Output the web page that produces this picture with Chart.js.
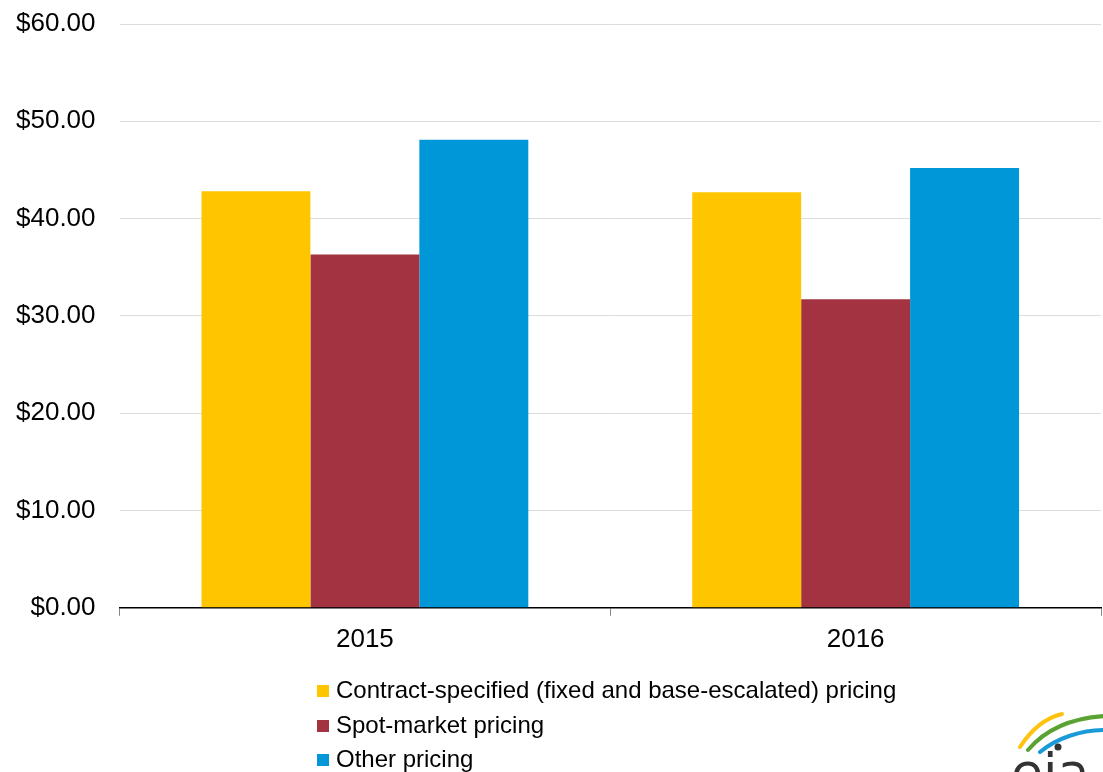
<!DOCTYPE html>
<html>
<head>
<meta charset="utf-8">
<script src="https://cdn.jsdelivr.net/npm/chart.js@4"></script>
<style>
  html, body { margin: 0; padding: 0; background: #fff; }
  #wrap { position: relative; width: 1103px; height: 772px; overflow: hidden; }
  #legend { position: absolute; left: 317px; top: 673px; font: 24px "Liberation Sans", Arial, sans-serif; color: #000; }
  #legend div { height: 34.5px; line-height: 34px; white-space: nowrap; }
  #legend span { display: inline-block; width: 12px; height: 12px; margin-right: 7px; vertical-align: 1px; }
  #logo { position: absolute; left: 1005px; top: 700px; }
</style>
</head>
<body>
<div id="wrap">
  <canvas id="chart1" width="1103" height="772"></canvas>
  <div id="legend"></div>
  <svg id="logo" width="98" height="72" viewBox="0 0 98 72">
    <path d="M15 47 C 26 30, 40 18, 57 14" stroke="#FFC20E" stroke-width="4" fill="none" stroke-linecap="round"/>
    <path d="M23 50 C 40 30, 66 18, 100 16" stroke="#5AA332" stroke-width="4" fill="none" stroke-linecap="round"/>
    <path d="M35 52 C 52 38, 76 30, 100 30" stroke="#1A9AD6" stroke-width="4" fill="none" stroke-linecap="round"/>
    <circle cx="53" cy="47" r="3.5" fill="#333"/>
    <text x="6" y="90" font-family="DejaVu Sans, sans-serif" font-size="52" fill="#333">eia</text>
  </svg>
</div>
<script>
const years = ["2015", "2016"];
const seriesNames = [
  "Contract-specified (fixed and base-escalated) pricing",
  "Spot-market pricing",
  "Other pricing",
];
const contractPrice = [42.8, 42.7];
const spotPrice = [36.3, 31.7];
const otherPrice = [48.1, 45.2];
const colors = ["#FFC600", "#A33340", "#0097D9"];

const ctx1 = document.getElementById("chart1").getContext("2d");

new Chart(ctx1, {
  type: "bar",
  data: {
    labels: years,
    datasets: [contractPrice, spotPrice, otherPrice].map(function (vals, i) {
      return {
        label: seriesNames[i],
        data: vals,
        backgroundColor: colors[i],
        barPercentage: 1,
        categoryPercentage: 0.666,
      };
    }),
  },
  options: {
    responsive: false,
    animation: false,
    layout: {
      padding: { left: 16, right: 2, top: 24, bottom: 109 },
    },
    plugins: {
      legend: { display: false },
      tooltip: { enabled: false },
    },
    scales: {
      x: {
        grid: {
          offset: true,
          drawOnChartArea: false,
          tickLength: 8,
          color: "#888",
        },
        border: { color: "#000", width: 1.5 },
        ticks: {
          color: "#000",
          padding: 8,
          font: { family: "Liberation Sans", size: 26 },
        },
      },
      y: {
        min: 0,
        max: 60,
        // invisible tick marks keep the gap between labels and plot
        grid: { color: "#dcdcdc", tickLength: 24, tickColor: "rgba(0,0,0,0)", lineWidth: 1 },
        border: { display: false },
        ticks: {
          stepSize: 10,
          color: "#000",
          padding: 0,
          font: { family: "Liberation Sans", size: 26 },
          callback: function (v) {
            return "$" + v.toFixed(2);
          },
        },
      },
    },
  },
});

// vertical legend under the axis
const legend = document.getElementById("legend");
seriesNames.forEach(function (name, i) {
  const row = document.createElement("div");
  const box = document.createElement("span");
  box.style.background = colors[i];
  row.appendChild(box);
  row.appendChild(document.createTextNode(name));
  legend.appendChild(row);
});
</script>
</body>
</html>
